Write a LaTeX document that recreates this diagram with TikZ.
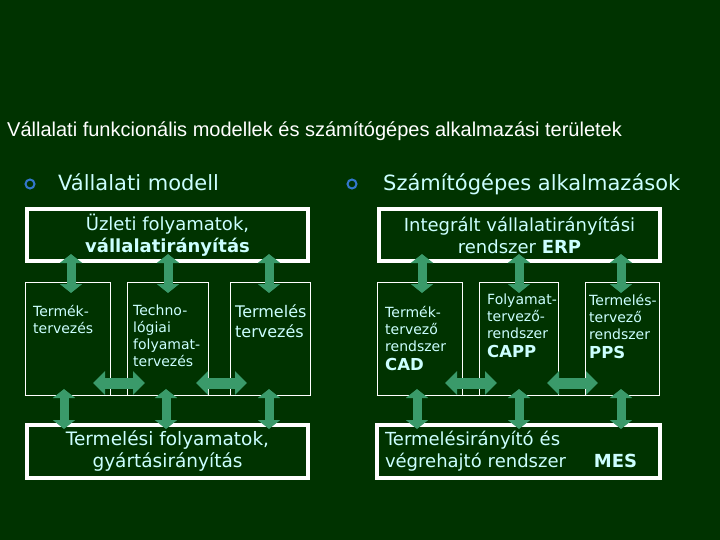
\documentclass[tikz,border=0pt]{standalone}
\usepackage{fontspec}
\setmainfont{DejaVu Sans}
\newfontfamily\titlefont{Liberation Sans}
\usetikzlibrary{arrows.meta}
\definecolor{slidebg}{HTML}{003300}
\definecolor{lightcyan}{HTML}{CCFFFF}
\definecolor{bulletblue}{HTML}{3377CC}
\definecolor{arrowgreen}{HTML}{3A9A6A}
\tikzset{
  bigbox/.style={draw=white,line width=4pt,minimum height=52pt,inner sep=0pt,text=lightcyan,align=center,font=\fontsize{18}{22}\selectfont},
  cellbox/.style={draw=white,line width=1pt,minimum height=113pt,inner sep=0pt},
  celltxt/.style={anchor=north west,inner sep=0pt,text=lightcyan,align=left,font=\fontsize{14}{17}\selectfont},
  bullet/.style={circle,draw=bulletblue,line width=2pt,minimum size=9pt,inner sep=0pt},
  bullettxt/.style={anchor=base west,inner sep=0pt,text=lightcyan,font=\fontsize{21}{24}\selectfont},
  varr/.style={arrowgreen,line width=9pt,{Triangle[length=9pt,width=22pt]}-{Triangle[length=9pt,width=22pt]}},
  harr/.style={arrowgreen,line width=11pt,{Triangle[length=12pt,width=23pt]}-{Triangle[length=12pt,width=23pt]}}
}
\begin{document}
\begin{tikzpicture}[x=1pt,y=-1pt]
\fill[slidebg](0,0)rectangle(720,540);
\useasboundingbox(0,0)rectangle(720,540);
% title and bullets
\node[anchor=base west,inner sep=0pt,text=white,font=\titlefont\fontsize{20}{22}\selectfont](title)at(7,137){V\'allalati funkcion\'alis modellek \'es sz\'am\'it\'og\'epes alkalmaz\'asi ter\"uletek};
\node[bullet](b1)at(30,184){};\node[bullettxt](bt1)at(58,191){V\'allalati modell};
\node[bullet](b2)at(352,184){};\node[bullettxt](bt2)at(383,191){Sz\'am\'it\'og\'epes alkalmaz\'asok};
% left side
\node[bigbox,minimum width=281pt](ub)at(167.5,235){\raisebox{-2pt}{\"Uzleti folyamatok,}\\\raisebox{-2pt}{\textbf{v\'allalatir\'any\'it\'as}}};
\node[cellbox,minimum width=85pt](m1)at(67.5,338.5){};
\node[cellbox,minimum width=81pt](m2)at(167.5,338.5){};
\node[cellbox,minimum width=80pt](m3)at(270,338.5){};
\draw[white,line width=1pt](m1.south west)--(m3.south east);
\node[celltxt](m1t)at(33,305){Term\'ek-\\tervez\'es};
\node[celltxt](m2t)at(133,305){Techno-\\l\'ogiai\\folyamat-\\tervez\'es};
\node[celltxt,font=\fontsize{16}{20}\selectfont](m3t)at(235,305){Termel\'es\\tervez\'es};
\node[bigbox,minimum width=281pt,minimum height=53pt,font=\fontsize{18.5}{22}\selectfont](lb)at(167.5,451.5){Termel\'esi folyamatok,\\gy\'art\'asir\'any\'it\'as};
% right side
\node[bigbox,minimum width=281pt](ue)at(519.5,235){\raisebox{-2pt}{Integr\'alt v\'allalatir\'any\'it\'asi}\\\raisebox{-2pt}{rendszer \textbf{ERP}}};
\node[cellbox,minimum width=85pt](r1)at(419.5,338.5){};
\node[cellbox,minimum width=79pt](r2)at(518.5,338.5){};
\node[cellbox,minimum width=74pt](r3)at(622.5,338.5){};
\draw[white,line width=1pt](r1.south west)--(r3.south east);
\node[celltxt](r1t)at(385,306){Term\'ek-\\tervez\H{o}\\rendszer\\[2pt]{\fontsize{16.5}{17}\selectfont\bfseries CAD}};
\node[celltxt](r2t)at(487,294){Folyamat-\\tervez\H{o}-\\rendszer\\[2pt]{\fontsize{16.5}{17}\selectfont\bfseries CAPP}};
\node[celltxt](r3t)at(589,294){Termel\'es-\\tervez\H{o}\\rendszer\\[2pt]{\fontsize{16.5}{17}\selectfont\bfseries PPS}};
\node[bigbox,minimum width=283pt,minimum height=53pt,align=left,text width=267pt,font=\fontsize{18}{22}\selectfont](le)at(518.5,451.5){Termel\'esir\'any\'it\'o \'es\\v\'egrehajt\'o rendszer\hspace{28pt}\textbf{MES}};
% connectors
\foreach \x [count=\i] in {71,168,269}{\coordinate(lu\i)at(\x,254);\coordinate(lm\i)at(\x,293);\draw[varr](lu\i)--(lm\i);}
\foreach \x [count=\i] in {64,166,269}{\coordinate(ld\i)at(\x,389);\coordinate(lb\i)at(\x,429);\draw[varr](ld\i)--(lb\i);}
\foreach \x [count=\i] in {422,519,621}{\coordinate(ru\i)at(\x,254);\coordinate(rm\i)at(\x,293);\draw[varr](ru\i)--(rm\i);}
\foreach \x [count=\i] in {417,519,621}{\coordinate(rd\i)at(\x,389);\coordinate(rb\i)at(\x,429);\draw[varr](rd\i)--(rb\i);}
\coordinate(h1a)at(93,383);\coordinate(h1b)at(145,383);\draw[harr](h1a)--(h1b);
\coordinate(h2a)at(196,383);\coordinate(h2b)at(247,383);\draw[harr](h2a)--(h2b);
\coordinate(h3a)at(445,383);\coordinate(h3b)at(497,383);\draw[harr](h3a)--(h3b);
\coordinate(h4a)at(547,383);\coordinate(h4b)at(598,383);\draw[harr](h4a)--(h4b);
\end{tikzpicture}
\end{document}
